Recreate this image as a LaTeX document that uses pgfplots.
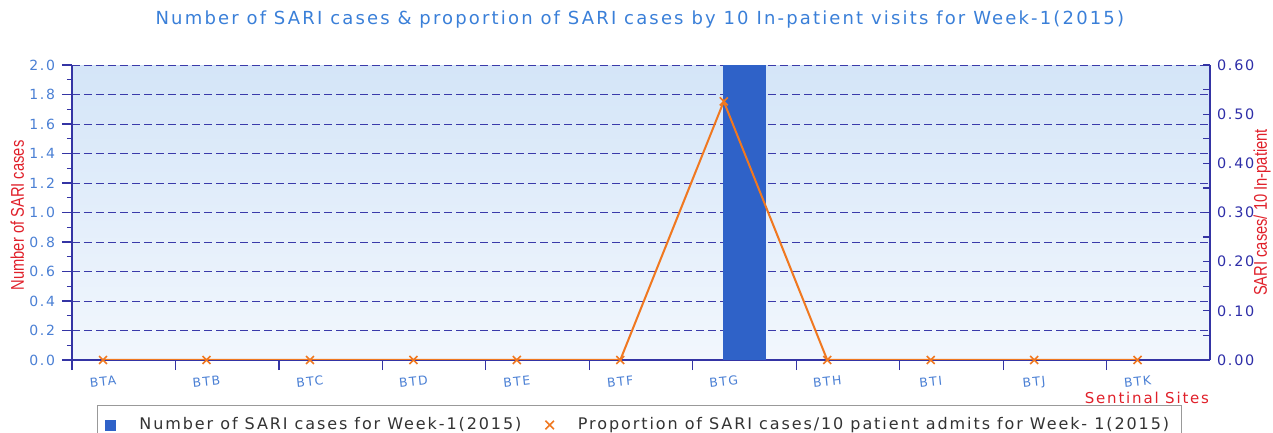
\documentclass[border=0pt]{standalone}
\usepackage{pgfplots}
\pgfplotsset{compat=1.18}
\usepackage{fontspec}
\setmainfont{DejaVu Sans}[LetterSpace=12]
\newfontfamily\labfont{Liberation Sans}[FakeStretch=0.8]
\definecolor{titleblue}{HTML}{3A7FD8}
\definecolor{ticklblue}{HTML}{4A7FD4}
\definecolor{tickrblue}{HTML}{2E2EA8}
\definecolor{axisblue}{HTML}{3434A4}
\definecolor{gridblue}{HTML}{3A3AAA}
\definecolor{barblue}{HTML}{2F62C8}
\definecolor{lineorange}{HTML}{F07820}
\definecolor{labred}{HTML}{E0202A}
\definecolor{bgtop}{HTML}{D4E5F8}
\definecolor{bgbot}{HTML}{F2F7FD}
\begin{document}
\begin{tikzpicture}
\useasboundingbox (0,0) rectangle (636.5pt,216.5pt);
\begin{axis}[
  at={(36pt,36.5pt)}, anchor=south west,
  width=569pt, height=147.5pt, scale only axis,
  xmin=0, xmax=11, ymin=0, ymax=2,
  axis x line*=bottom, axis y line*=left,
  axis line style={draw=axisblue, line width=0.8pt},
  axis background/.style={top color=bgtop, bottom color=bgbot},
  /pgf/number format/assume math mode=true,
  /pgf/number format/.cd, fixed, fixed zerofill, precision=1, /pgfplots/.cd,
  ytick={0,0.2,...,2.0},
  minor y tick num=1,
  tick align=outside,
  major tick length=5pt, minor tick length=2.5pt,
  tick style={draw=axisblue, line width=0.6pt},
  ymajorgrids,
  major grid style={draw=gridblue, dash pattern=on 4pt off 2pt, line width=0.5pt},
  yticklabel style={font=\fontsize{7}{8}\selectfont, text=ticklblue},
  xtick={0,1,...,10},
  xticklabels={BTA,BTB,BTC,BTD,BTE,BTF,BTG,BTH,BTI,BTJ,BTK},
  xticklabel style={font=\fontsize{6.2}{7}\selectfont, text=ticklblue, xshift=15.5pt, rotate=6},
  title={Number of SARI cases \& proportion of SARI cases by 10 In-patient visits for Week-1(2015)},
  title style={at={(axis description cs:0.499,1.115)}, anchor=center, yshift=0pt, font=\fontsize{9}{10}\selectfont, text=titleblue},
  ylabel={\labfont Number of SARI cases},
  ylabel style={at={(axis description cs:-0.048,0.49)}, anchor=center, font=\fontsize{9.2}{10}\selectfont, text=labred},
  xlabel={Sentinal Sites},
  xlabel style={at={(axis description cs:0.9446,-0.129)}, anchor=center, font=\fontsize{7.5}{8}\selectfont, text=labred},
  legend style={at={(axis description cs:0.022,-0.1525)}, anchor=north west, legend columns=2,
    draw=gray!80, fill=white, font=\fontsize{8}{9}\selectfont, text=black!80,
    inner xsep=4pt, inner ysep=4pt,
    /tikz/every odd column/.append style={column sep=10pt},
    /tikz/every even column/.append style={column sep=10pt}},
  legend cell align=left,
]
\addplot[ybar, bar width=0.41, draw=none, fill=barblue, forget plot] coordinates {(6.5,2)};
\addlegendimage{only marks, mark=square*, mark size=2.5pt, mark options={fill=barblue, draw=barblue}}
\addlegendentry{Number of SARI cases for Week-1(2015)}
\addlegendimage{only marks, mark=x, mark size=3pt, mark options={draw=lineorange, line width=0.8pt}}
\addlegendentry{Proportion of SARI cases/10 patient admits for Week- 1(2015)}
\end{axis}
\begin{axis}[
  at={(36pt,36.5pt)}, anchor=south west,
  width=569pt, height=147.5pt, scale only axis,
  xmin=0, xmax=11, ymin=0, ymax=0.6,
  axis x line=none, axis y line*=right,
  axis line style={draw=axisblue, line width=0.8pt},
  /pgf/number format/assume math mode=true,
  /pgf/number format/.cd, fixed, fixed zerofill, precision=2, /pgfplots/.cd,
  ytick={0,0.1,...,0.6},
  minor y tick num=1,
  tick align=inside,
  major tick length=3.5pt, minor tick length=3.5pt,
  tick style={draw=axisblue, line width=0.6pt},
  yticklabel style={font=\fontsize{7.2}{8}\selectfont, text=tickrblue},
  ylabel={\labfont SARI cases/ 10 In-patient},
  ylabel style={at={(axis description cs:1.0457,0.50)}, anchor=center, font=\fontsize{9.2}{10}\selectfont, text=labred},
]
\addplot[lineorange, line width=1pt, mark=x, mark size=2.8pt, mark options={line width=0.8pt}] coordinates {
(0.3,0) (1.3,0) (2.3,0) (3.3,0) (4.3,0) (5.3,0) (6.3,0.526) (7.3,0) (8.3,0) (9.3,0) (10.3,0)};
\end{axis}
\end{tikzpicture}
\end{document}
